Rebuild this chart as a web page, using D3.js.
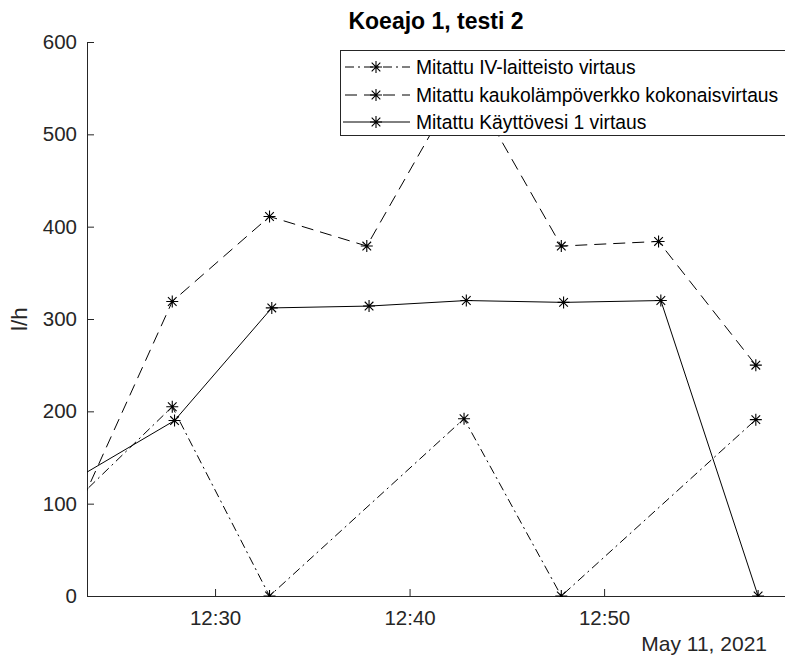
<!DOCTYPE html>
<html>
<head>
<meta charset="utf-8">
<script src="https://cdn.jsdelivr.net/npm/d3@7"></script>
<style>
  html, body { margin: 0; padding: 0; background: #fff; }
  svg { display: block; font-family: "Liberation Sans", Arial, Helvetica, sans-serif; }
</style>
</head>
<body>
<svg id="chart" width="785" height="658"></svg>
<script>
// Measured flows, 11 May 2021 (l/h)
const day = "2021-05-11";
const ivTimes = ["12:22:48", "12:27:48", "12:32:48", "12:42:48", "12:47:48", "12:57:48"];
const ivValues = [103, 205, 0, 192, 0, 191];
const totalTimes = ["12:22:48", "12:27:48", "12:32:48", "12:37:48", "12:42:48", "12:47:48", "12:52:48", "12:57:48"];
const totalValues = [86, 319, 411, 379, 564, 379, 384, 250];
const dhwTimes = ["12:22:55", "12:27:55", "12:32:55", "12:37:55", "12:42:55", "12:47:55", "12:52:55", "12:57:55"];
const dhwValues = [128, 190, 312, 314, 320, 318, 320, 0];
const seriesNames = [
  "Mitattu IV-laitteisto virtaus",
  "Mitattu kaukolämpöverkko kokonaisvirtaus",
  "Mitattu Käyttövesi 1 virtaus"
];
const yTicks = [0, 100, 200, 300, 400, 500, 600];
const xTickTimes = ["12:30", "12:40", "12:50"];
const xStart = "12:23:25", xEnd = "12:59:18";

const parse = d3.timeParse("%Y-%m-%d %H:%M:%S");
const toDate = t => parse(`${day} ${t.length === 5 ? t + ":00" : t}`);

const svg = d3.select("#chart");
const plotLeft = 87, plotRight = 785, plotTop = 42, plotBottom = 596;
const axisColor = "#262626";

const x = d3.scaleTime().domain([toDate(xStart), toDate(xEnd)]).range([plotLeft, plotRight]);
const y = d3.scaleLinear().domain([0, 600]).range([plotBottom, plotTop]);

svg.append("defs").append("clipPath").attr("id", "plotClip")
  .append("rect").attr("x", plotLeft).attr("y", 0).attr("width", plotRight - plotLeft + 20).attr("height", plotBottom + 1);

// Axes (left and bottom only, ticks pointing inward)
const yAxis = d3.axisLeft(y).tickValues(yTicks).tickSizeInner(-7).tickSizeOuter(0).tickPadding(10);
const xAxis = d3.axisBottom(x).tickValues(xTickTimes.map(toDate)).tickFormat(d3.timeFormat("%H:%M"))
  .tickSizeInner(-7).tickSizeOuter(0).tickPadding(14);

function styleAxis(g) {
  g.select(".domain").attr("stroke", axisColor).attr("stroke-width", 1);
  g.selectAll(".tick line").attr("stroke", axisColor);
  g.selectAll(".tick text").attr("fill", axisColor).style("font-size", "20.5px").style("font-family", "'Liberation Sans', Arial, sans-serif");
}
svg.append("g").attr("transform", `translate(${plotLeft},0)`).call(yAxis).call(styleAxis);
svg.append("g").attr("transform", `translate(0,${plotBottom})`).call(xAxis).call(styleAxis);

svg.append("text").attr("x", 767).attr("y", 651).attr("text-anchor", "end")
  .attr("fill", axisColor).style("font-size", "21px").text("May 11, 2021");

svg.append("text").attr("transform", `translate(27,${(plotTop + plotBottom) / 2}) rotate(-90)`)
  .attr("text-anchor", "middle").attr("fill", axisColor).style("font-size", "22.5px").text("l/h");

svg.append("text").attr("x", (plotLeft + plotRight) / 2).attr("y", 29).attr("text-anchor", "middle")
  .attr("fill", "#000").style("font-size", "23px").style("font-weight", "bold").text("Koeajo 1, testi 2");

// Series
const series = [
  { name: seriesNames[0], times: ivTimes, values: ivValues, dash: "9,4,2,4" },
  { name: seriesNames[1], times: totalTimes, values: totalValues, dash: "12,7" },
  { name: seriesNames[2], times: dhwTimes, values: dhwValues, dash: null }
];

const star = r => {
  const a = r * 0.72;
  return `M${-r},0H${r}M0,${-r}V${r}M${-a},${-a}L${a},${a}M${-a},${a}L${a},${-a}`;
};

const line = d3.line().x(d => x(d.t)).y(d => y(d.v));
const plot = svg.append("g").attr("clip-path", "url(#plotClip)");

series.forEach(s => {
  const pts = s.times.map((t, i) => ({ t: toDate(t), v: s.values[i] }));
  plot.append("path").datum(pts).attr("d", line).attr("fill", "none")
    .attr("stroke", "#000").attr("stroke-width", 1)
    .attr("stroke-dasharray", s.dash);
  plot.selectAll(null).data(pts.filter(p => x(p.t) >= plotLeft)).enter().append("path")
    .attr("transform", p => `translate(${x(p.t)},${y(p.v)})`)
    .attr("d", star(6)).attr("stroke", "#000").attr("stroke-width", 1.1).attr("fill", "none");
});

// Legend
const legend = svg.append("g");
legend.append("rect").attr("x", 340.5).attr("y", 50.5).attr("width", 470).attr("height", 85)
  .attr("fill", "#fff").attr("stroke", axisColor).attr("stroke-width", 1);
const rowY = [67, 95, 122];
series.forEach((s, i) => {
  const g = legend.append("g").attr("transform", `translate(0,${rowY[i]})`);
  g.append("line").attr("x1", 343).attr("x2", 410).attr("y1", 0).attr("y2", 0)
    .attr("stroke", "#000").attr("stroke-width", 1).attr("stroke-dasharray", s.dash)
    .attr("stroke-dashoffset", s.dash ? -2 : 0);
  g.append("path").attr("transform", "translate(376,0)").attr("d", star(6))
    .attr("stroke", "#000").attr("stroke-width", 1.1).attr("fill", "none");
  g.append("text").attr("x", 416).attr("y", 0).attr("dy", "0.35em")
    .attr("fill", "#000").style("font-size", "19.3px").text(s.name);
});
</script>
</body>
</html>
